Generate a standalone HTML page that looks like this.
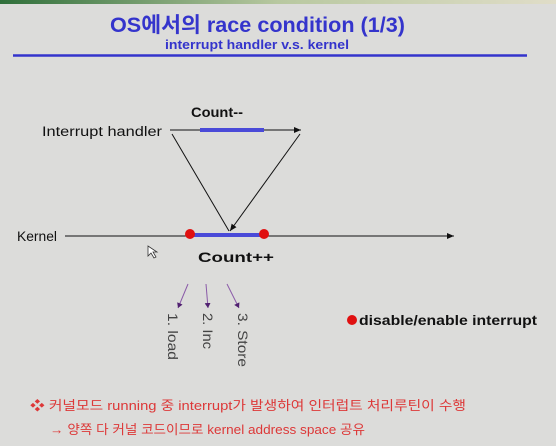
<!DOCTYPE html>
<html><head><meta charset="utf-8"><style>
html,body{margin:0;padding:0;background:#dcdcda;}
svg{display:block;font-family:"Liberation Sans","Noto Sans CJK KR",sans-serif;}
</style></head><body>
<svg width="556" height="446" viewBox="0 0 556 446">
<defs>
<linearGradient id="tg" x1="0" x2="1"><stop offset="0" stop-color="#2f6f3a"/><stop offset="0.5" stop-color="#b8c8a0"/><stop offset="1" stop-color="#e0ddc8"/></linearGradient>
<marker id="ah" markerWidth="8" markerHeight="8" refX="7" refY="4" orient="auto" markerUnits="userSpaceOnUse"><path d="M0,1 L7,4 L0,7 z" fill="#111"/></marker>
<marker id="ap" markerWidth="6" markerHeight="6" refX="5" refY="3" orient="auto" markerUnits="userSpaceOnUse"><path d="M0,0 L5,3 L0,6 z" fill="#502070"/></marker>
</defs>
<rect x="0" y="0" width="556" height="446" fill="#dcdcda"/>
<rect x="0" y="0" width="556" height="4" fill="url(#tg)"/>
<text x="110" y="32" font-size="21" font-weight="bold" fill="#3434cc" textLength="295" lengthAdjust="spacingAndGlyphs">OS에서의  race condition (1/3)</text>
<text x="165" y="49" font-size="13" font-weight="bold" fill="#3434cc" textLength="184" lengthAdjust="spacingAndGlyphs">interrupt handler v.s. kernel</text>
<line x1="13" y1="55.5" x2="527" y2="55.5" stroke="#3434cc" stroke-width="2.5"/>

<text x="191" y="117" font-size="14" font-weight="bold" fill="#111" textLength="52" lengthAdjust="spacingAndGlyphs">Count--</text>
<text x="42" y="136" font-size="13.5" fill="#111" textLength="120" lengthAdjust="spacingAndGlyphs">Interrupt handler</text>
<line x1="170" y1="130" x2="301" y2="130" stroke="#111" stroke-width="1" marker-end="url(#ah)"/>
<line x1="200" y1="130" x2="264" y2="130" stroke="#4a4ad8" stroke-width="4"/>
<line x1="172" y1="134" x2="229" y2="231" stroke="#111" stroke-width="1"/>
<line x1="300" y1="134" x2="230" y2="231" stroke="#111" stroke-width="1" marker-end="url(#ah)"/>

<text x="17" y="241" font-size="13.5" fill="#111" textLength="40" lengthAdjust="spacingAndGlyphs">Kernel</text>
<line x1="65" y1="236" x2="454" y2="236" stroke="#111" stroke-width="1" marker-end="url(#ah)"/>
<line x1="190" y1="235" x2="264" y2="235" stroke="#4a4ad8" stroke-width="4"/>
<circle cx="190" cy="234" r="5" fill="#e01010"/>
<circle cx="264" cy="234" r="5" fill="#e01010"/>
<text x="198" y="262" font-size="14" font-weight="bold" fill="#111" textLength="76" lengthAdjust="spacingAndGlyphs">Count++</text>
<path d="M148,246 l0,10 l3,-3 l3,5 l2,-1 l-3,-5 l4,0 z" fill="#fff" stroke="#333" stroke-width="0.8"/>

<line x1="188" y1="284" x2="178" y2="308" stroke="#8a5aa8" stroke-width="1" marker-end="url(#ap)"/>
<line x1="206" y1="284" x2="208" y2="308" stroke="#8a5aa8" stroke-width="1" marker-end="url(#ap)"/>
<line x1="227" y1="284" x2="239" y2="308" stroke="#8a5aa8" stroke-width="1" marker-end="url(#ap)"/>
<text transform="translate(168,313) rotate(90)" font-size="14" fill="#444" textLength="47" lengthAdjust="spacingAndGlyphs">1. load</text>
<text transform="translate(203,313) rotate(90)" font-size="14" fill="#444" textLength="36" lengthAdjust="spacingAndGlyphs">2. Inc</text>
<text transform="translate(238,313) rotate(90)" font-size="14" fill="#444" textLength="54" lengthAdjust="spacingAndGlyphs">3. Store</text>

<circle cx="352" cy="320" r="5" fill="#e01010"/>
<text x="359" y="325" font-size="14" font-weight="bold" fill="#111" textLength="178" lengthAdjust="spacingAndGlyphs">disable/enable interrupt</text>

<text x="30" y="410" font-size="13" fill="#dd3838" textLength="436" lengthAdjust="spacingAndGlyphs">❖ 커널모드 running 중 interrupt가 발생하여 인터럽트 처리루틴이 수행</text>
<text x="50" y="434" font-size="13" fill="#dd3838" textLength="315" lengthAdjust="spacingAndGlyphs">→ 양쪽 다 커널 코드이므로 kernel address space 공유</text>
</svg>
</body></html>
